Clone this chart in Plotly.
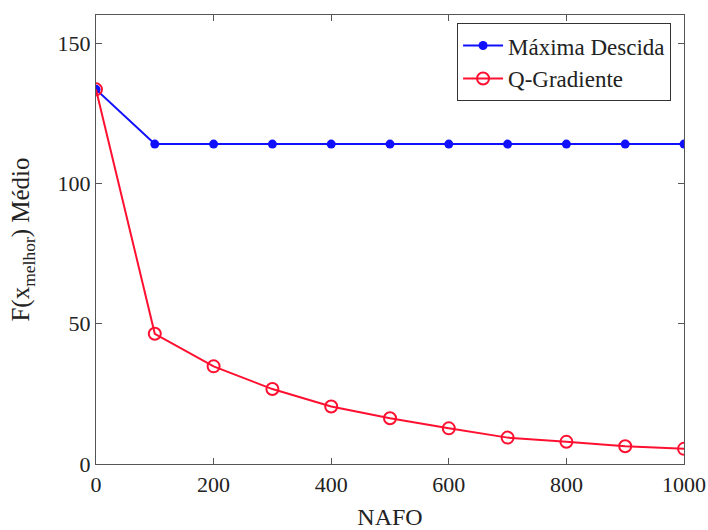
import plotly.graph_objects as go

# NAFO values (number of function evaluations)
nafo = [0, 100, 200, 300, 400, 500, 600, 700, 800, 900, 1000]

# Mean best objective value per method
maxima_descida = [133.5, 114, 114, 114, 114, 114, 114, 114, 114, 114, 114]
q_gradiente = [133.5, 46.4, 34.8, 26.7, 20.5, 16.3, 12.7, 9.4, 7.9, 6.3, 5.4]

x_ticks = [0, 200, 400, 600, 800, 1000]
y_ticks = [0, 50, 100, 150]

font_family = "Liberation Serif"

fig = go.Figure()

fig.add_trace(go.Scatter(
    x=nafo, y=maxima_descida, mode="lines+markers", name="Máxima Descida",
    line=dict(color="#1010ff", width=2),
    marker=dict(symbol="circle", size=9, color="#1010ff"),
))

fig.add_trace(go.Scatter(
    x=nafo, y=q_gradiente, mode="lines+markers", name="Q-Gradiente",
    line=dict(color="#ff1030", width=2),
    marker=dict(symbol="circle-open", size=12, color="#ff1030", line=dict(width=2)),
))

axis_common = dict(
    showline=True, linecolor="#555555", linewidth=1.2, mirror="ticks",
    ticks="inside", ticklen=6, tickcolor="#555555", tickwidth=1,
    showgrid=False, zeroline=False,
    tickfont=dict(family=font_family, size=22, color="#222222"),
)

fig.update_layout(
    width=708, height=530,
    margin=dict(l=96, r=24, t=15, b=66, autoexpand=False),
    paper_bgcolor="white", plot_bgcolor="white",
    font=dict(family=font_family, color="#222222"),
    xaxis=dict(range=[0, 1000], tickvals=x_ticks,
               title=dict(text="NAFO", font=dict(family=font_family, size=24), standoff=14),
               **axis_common),
    yaxis=dict(range=[0, 160], tickvals=y_ticks,
               title=dict(text="F(x<sub>melhor</sub>) Médio", font=dict(family=font_family, size=25), standoff=20),
               **axis_common),
    legend=dict(
        x=0.978, y=0.982, xanchor="right", yanchor="top",
        bgcolor="white", bordercolor="#333333", borderwidth=1,
        font=dict(family=font_family, size=23, color="#222222"),
        itemwidth=40, tracegroupgap=0,
    ),
    showlegend=True,
)

fig.write_html("out.html")
